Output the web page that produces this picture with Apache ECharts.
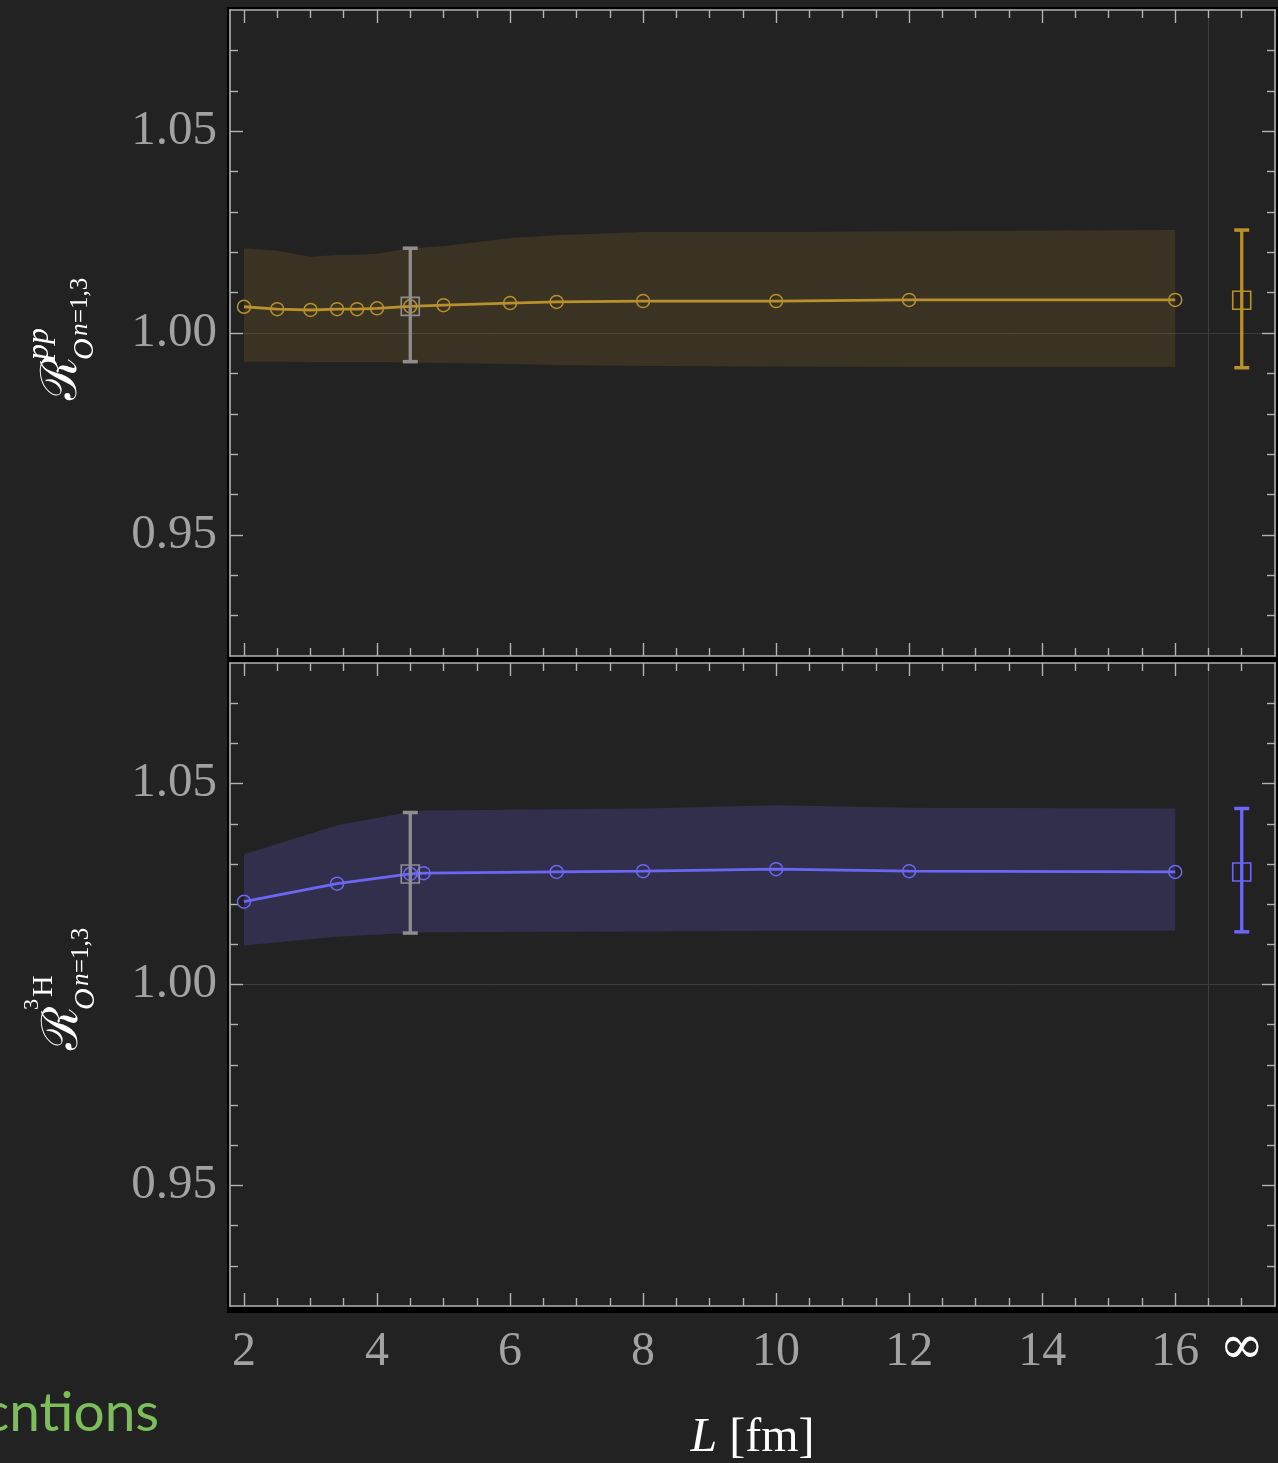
<!DOCTYPE html>
<html><head><meta charset="utf-8">
<script src="https://cdn.jsdelivr.net/npm/echarts@6/dist/echarts.min.js"></script>
<style>html,body{margin:0;padding:0;background:#222222;}#c{width:1278px;height:1463px;}</style>
</head><body><div id="c"></div>
<script>
// ---- axis ticks / labels ----
const xMajorTicks = [2, 4, 6, 8, 10, 12, 14, 16];
const xLabelValues = [2, 4, 6, 8, 10, 12, 14, 16, 17];
const xMinorTicks = [2.5, 3, 3.5, 4.5, 5, 5.5, 6.5, 7, 7.5, 8.5, 9, 9.5, 10.5, 11, 11.5, 12.5, 13, 13.5, 14.5, 15, 15.5, 16.5, 17];
const yMajorTicks = [0.95, 1.00, 1.05];
const yMinorTicks = [0.93, 0.94, 0.96, 0.97, 0.98, 0.99, 1.01, 1.02, 1.03, 1.04, 1.06, 1.07];
const X_MIN = 1.79, X_MAX = 17.5, Y_MIN = 0.92, Y_MAX = 1.08;
const INF_X = 17;

// ---- top panel (pp) ----
const ppL = [2, 2.5, 3, 3.4, 3.7, 4, 4.5, 5, 6, 6.7, 8, 10, 12, 16];
const ppR = [1.0065, 1.0059, 1.0057, 1.0059, 1.0059, 1.0061, 1.0066, 1.0069, 1.0074, 1.0077, 1.0079, 1.0079, 1.0082, 1.0082];
const ppHigh = [1.0210, 1.0204, 1.0189, 1.0193, 1.0194, 1.0196, 1.0210, 1.0215, 1.0235, 1.0242, 1.0250, 1.0250, 1.0252, 1.0255];
const ppLow = [0.9929, 0.9929, 0.9928, 0.9928, 0.9928, 0.9928, 0.9927, 0.9926, 0.9923, 0.9921, 0.9918, 0.9917, 0.9916, 0.9916];
// error bars: [x, low, high, center]
const ppErr = [[4.5, 0.9929, 1.0210, 1.0066], [17, 0.9914, 1.0255, 1.0081]];

// ---- bottom panel (3H) ----
const h3L = [2, 3.4, 4.5, 4.7, 6.7, 8, 10, 12, 16];
const h3R = [1.0206, 1.0251, 1.0275, 1.0277, 1.0280, 1.0282, 1.0287, 1.0282, 1.0280];
const h3High = [1.0324, 1.0396, 1.0430, 1.0433, 1.0436, 1.0438, 1.0446, 1.0440, 1.0438];
const h3Low = [1.0097, 1.0119, 1.0129, 1.0130, 1.0131, 1.0132, 1.0134, 1.0134, 1.0134];
const h3Err = [[4.5, 1.0128, 1.0428, 1.0275], [17, 1.0131, 1.0438, 1.0280]];

const GOLD = '#b8902c', BLUE = '#6c66f5', GRAY = '#8e8e8e';
const FRAME = '#b3b3b3';
const SERIF = "'Liberation Serif', 'DejaVu Serif', serif";
const LABEL_COLOR = '#a2a2a2';

const grids = [
  {left: 230, top: 10, width: 1045, height: 646},
  {left: 230, top: 663, width: 1045, height: 646}
];

function tickAxis(kind, gi, position, values, len, lineShow, labelOpt) {
  return {
    gridIndex: gi, type: 'value', position: position,
    min: kind === 'x' ? X_MIN : Y_MIN, max: kind === 'x' ? X_MAX : Y_MAX,
    splitLine: {show: false},
    axisLine: {show: lineShow, onZero: false, lineStyle: {color: FRAME, width: 1.6}},
    axisTick: {show: true, inside: true, length: len, customValues: values, lineStyle: {color: FRAME, width: 1.4}},
    axisLabel: labelOpt || {show: false}
  };
}

const xAxes = [], yAxes = [];
for (let gi = 0; gi < 2; gi++) {
  const xl = gi === 1 ? {
    show: true, customValues: xLabelValues, margin: 21, fontFamily: SERIF, fontSize: 48, color: LABEL_COLOR,
    formatter: v => (v === INF_X ? '{inf|∞}' : '{n|' + v + '}'),
    rich: {
      n: {color: LABEL_COLOR, fontSize: 48, fontFamily: SERIF, lineHeight: 50},
      inf: {color: '#ffffff', fontSize: 54, fontFamily: "'DejaVu Serif', serif", lineHeight: 50, padding: [0, 0, 6, 0]}
    }
  } : null;
  const xb = tickAxis('x', gi, 'bottom', xMajorTicks, 13, true, xl);
  if (gi === 1) {
    xb.name = '{i|L} {r|[fm]}';
    xb.nameLocation = 'middle';
    xb.nameGap = 108;
    xb.nameTextStyle = {color: '#ffffff', fontSize: 48, fontFamily: SERIF,
      rich: {i: {color: '#ffffff', fontSize: 48, fontFamily: SERIF, fontStyle: 'italic'},
             r: {color: '#ffffff', fontSize: 48, fontFamily: SERIF}}};
  }
  xAxes.push(xb);
  xAxes.push(tickAxis('x', gi, 'bottom', xMinorTicks, 8, false));
  xAxes.push(tickAxis('x', gi, 'top', xMajorTicks, 13, true));
  xAxes.push(tickAxis('x', gi, 'top', xMinorTicks, 8, false));

  const yl = {show: true, customValues: yMajorTicks, margin: 13, fontFamily: SERIF, fontSize: 49, color: LABEL_COLOR,
    formatter: v => '{n|' + v.toFixed(2) + '}',
    rich: {n: {color: LABEL_COLOR, fontSize: 49, fontFamily: SERIF}}};
  yAxes.push(tickAxis('y', gi, 'left', yMajorTicks, 13, true, yl));
  yAxes.push(tickAxis('y', gi, 'left', yMinorTicks, 8, false));
  yAxes.push(tickAxis('y', gi, 'right', yMajorTicks, 13, true));
  yAxes.push(tickAxis('y', gi, 'right', yMinorTicks, 8, false));
}

function bandSeries(gi, xs, lo, hi, fill) {
  return {
    type: 'custom', xAxisIndex: gi * 4, yAxisIndex: gi * 4, z: 1, silent: true,
    data: xs.map((x, i) => [x, lo[i], hi[i]]),
    encode: {x: 0, y: [1, 2]},
    renderItem: function (params, api) {
      if (params.dataIndex !== 0) return null;
      const upper = xs.map((x, i) => api.coord([x, hi[i]]));
      const lower = xs.map((x, i) => api.coord([x, lo[i]])).reverse();
      return {type: 'polygon', shape: {points: upper.concat(lower)}, style: {fill: fill}};
    }
  };
}

function lineSeries(gi, xs, ys, color) {
  return {
    type: 'line', xAxisIndex: gi * 4, yAxisIndex: gi * 4, z: 3, silent: true,
    data: xs.map((x, i) => [x, ys[i]]),
    symbol: 'circle', symbolSize: 13, showSymbol: true,
    itemStyle: {color: 'rgba(0,0,0,0)', borderColor: color, borderWidth: 1.5},
    lineStyle: {color: color, width: 2.8},
    markLine: {
      silent: true, symbol: 'none', label: {show: false}, z: 0,
      lineStyle: {color: '#3d3d3d', width: 1, type: 'solid'},
      data: [{yAxis: 1.00}, {xAxis: 16.5}]
    }
  };
}

function errSeries(gi, data, colors) {
  return {
    type: 'custom', xAxisIndex: gi * 4, yAxisIndex: gi * 4, z: 4, silent: true,
    data: data,
    encode: {x: 0, y: [1, 2]},
    renderItem: function (params, api) {
      const x = api.value(0);
      const pLo = api.coord([x, api.value(1)]);
      const pHi = api.coord([x, api.value(2)]);
      const pC = api.coord([x, api.value(3)]);
      const col = colors[params.dataIndex];
      const cw = 7.5, sq = 9;
      return {type: 'group', children: [
        {type: 'line', shape: {x1: pLo[0], y1: pLo[1], x2: pHi[0], y2: pHi[1]}, style: {stroke: col, lineWidth: 3.3}},
        {type: 'line', shape: {x1: pHi[0] - cw, y1: pHi[1], x2: pHi[0] + cw, y2: pHi[1]}, style: {stroke: col, lineWidth: 3.5}},
        {type: 'line', shape: {x1: pLo[0] - cw, y1: pLo[1], x2: pLo[0] + cw, y2: pLo[1]}, style: {stroke: col, lineWidth: 3.5}},
        {type: 'rect', shape: {x: pC[0] - sq, y: pC[1] - sq, width: 2 * sq, height: 2 * sq}, style: {fill: 'none', stroke: col, lineWidth: 1.6}}
      ]};
    }
  };
}

// rotated y-axis title helpers (local coords: u along reading direction, v = baseline offset, + is lower)
function tx(text, u, vBase, size, italic, family) {
  return {type: 'text', x: u, y: vBase - 0.3 * size,
    style: {text: text, font: (italic ? 'italic ' : '') + size + 'px ' + (family || SERIF), fill: '#ffffff',
      align: 'left', verticalAlign: 'middle'}};
}

const graphic = [
  {type: 'rect', z: -10, silent: true, shape: {x: 227, y: 7, width: 1052, height: 1306}, style: {fill: '#000000'}},
  {type: 'group', x: 76, y: 400, rotation: Math.PI / 2, silent: true, children: [
    tx('ℛ', 0, 2, 50, false, "'DejaVu Serif', serif"),
    tx('pp', 40, -27, 32, true),
    tx('O', 40, 18, 30, true),
    tx('n', 64, 12, 25, true),
    tx('=1,3', 77, 12, 25, false)
  ]},
  {type: 'group', x: 77, y: 1050, rotation: Math.PI / 2, silent: true, children: [
    tx('ℛ', 0, 2, 50, false, "'DejaVu Serif', serif"),
    tx('3', 40, -38, 22, false),
    tx('H', 53, -24, 30, false),
    tx('O', 40, 18, 30, true),
    tx('n', 64, 12, 25, true),
    tx('=1,3', 77, 12, 25, false)
  ]},
  {type: 'text', x: -17, y: 1413, silent: true,
    style: {text: 'cntions', font: '55px Lato, "Open Sans", sans-serif', fill: '#7cbf5a', align: 'left', verticalAlign: 'middle'}}
];

const option = {
  backgroundColor: '#222222',
  animation: false,
  textStyle: {fontFamily: SERIF},
  grid: grids.map(g => Object.assign({show: true, backgroundColor: '#222222', borderWidth: 0}, g)),
  xAxis: xAxes,
  yAxis: yAxes,
  graphic: graphic,
  series: [
    bandSeries(0, ppL, ppLow, ppHigh, 'rgba(184,144,44,0.16)'),
    lineSeries(0, ppL, ppR, GOLD),
    errSeries(0, ppErr, [GRAY, GOLD]),
    bandSeries(1, h3L, h3Low, h3High, 'rgba(108,102,245,0.2)'),
    lineSeries(1, h3L, h3R, BLUE),
    errSeries(1, h3Err, [GRAY, BLUE])
  ]
};
const chart = echarts.init(document.getElementById('c'), null, {renderer: 'canvas'});
chart.setOption(option);
</script></body></html>
